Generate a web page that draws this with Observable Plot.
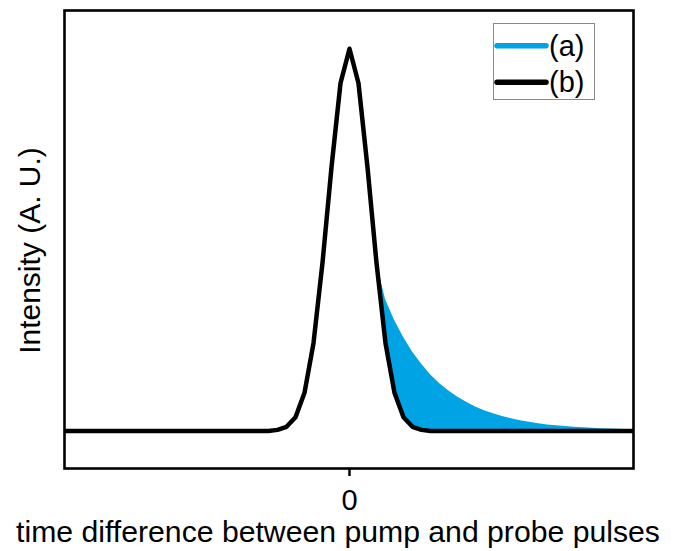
<!DOCTYPE html>
<html>
<head>
<meta charset="utf-8">
<script src="https://cdn.jsdelivr.net/npm/d3@7"></script>
<script src="https://cdn.jsdelivr.net/npm/@observablehq/plot@0.6"></script>
<style>
  html, body { margin: 0; padding: 0; background: white; }
  #wrap { position: relative; width: 673px; height: 551px; font-family: "Liberation Sans", Arial, sans-serif; }
  #legend { position: absolute; left: 493px; top: 23px; }
</style>
</head>
<body>
<div id="wrap"></div>
<script>
// time samples (arbitrary units, 0 = pulse overlap)
const time = [-32,-31,-30,-29,-28,-27,-26,-25,-24,-23,-22,-21,-20,-19,-18,-17,-16,-15,-14,-13,-12,-11,-10,-9,
  -8,-7,-6,-5,-4,-3,-2,-1,0,1,2,3,4,5,6,7,8,
  9,10,11,12,13,14,15,16,17,18,19,20,21,22,23,24,25,26,27,28,29,30,31,32];
// series (b): pump-probe cross-correlation peak
const seriesB = [0,0,0,0,0,0,0,0,0,0,0,0,0,0,0,0,0,0,0,0,0,0,0,0,
  0.003,0.011,0.036,0.10,0.23,0.44,0.69,0.91,1.0,0.91,0.69,0.44,0.23,0.10,0.036,0.011,0.003,
  0,0,0,0,0,0,0,0,0,0,0,0,0,0,0,0,0,0,0,0,0,0,0,0];
// series (a): same peak with an exponential tail
const seriesA = [0,0,0,0,0,0,0,0,0,0,0,0,0,0,0,0,0,0,0,0,0,0,0,0,
  0.003,0.011,0.036,0.10,0.23,0.44,0.69,0.91,1.0,0.91,0.69,0.44,
  0.344,0.290,0.245,0.207,0.175,0.147,0.124,0.105,0.089,0.075,0.063,0.053,0.045,0.038,0.032,
  0.027,0.023,0.019,0.016,0.014,0.012,0.010,0.0085,0.007,0.006,0.005,0.0043,0.0036,0.003];
const xTicks = [0];
const xTickLabels = ["0"];
const xLabel = "time difference between pump and probe pulses";
const yLabel = "Intensity (A. U.)";
const legendLabels = ["(a)", "(b)"];
const colors = ["#00a3e3", "#000000"];

const rows = time.map((t, i) => ({t, a: seriesA[i], b: seriesB[i]}));

const chart = Plot.plot({
  width: 673,
  height: 551,
  marginLeft: 64,
  marginRight: 40,
  marginTop: 10,
  marginBottom: 83,
  style: {fontFamily: "'Liberation Sans', Arial, sans-serif", background: "white", color: "black"},
  x: {domain: [-31.67, 31.56]},
  y: {domain: [-0.0981, 1.1002], axis: null},
  marks: [
    Plot.areaY(rows, {x: "t", y1: "b", y2: "a", fill: colors[0], clip: true}),
    Plot.lineY(rows, {x: "t", y: "b", stroke: colors[1], strokeWidth: 4.5, clip: true}),
    Plot.frame({stroke: "black", strokeWidth: 2.6}),
    Plot.axisX(xTicks, {tickSize: 8, tickPadding: 13, fontSize: 29, strokeWidth: 2.5,
      tickFormat: (d, i) => xTickLabels[i], label: null}),
    Plot.text([xLabel], {frameAnchor: "bottom", lineAnchor: "middle", textAnchor: "middle",
      dx: -11, dy: 64, fontSize: 30.2, fill: "black"}),
    Plot.text([yLabel], {frameAnchor: "left", lineAnchor: "middle", textAnchor: "middle",
      dx: -34, dy: 11, rotate: -90, fontSize: 30, fill: "black"})
  ]
});
const wrap = document.getElementById("wrap");
wrap.appendChild(chart);

// legend box
const lg = d3.select(wrap).append("svg").attr("id", "legend")
  .attr("width", 102).attr("height", 77);
lg.append("rect").attr("x", 0.5).attr("y", 0.5).attr("width", 101).attr("height", 76)
  .attr("fill", "white").attr("stroke", "#8a8a8a").attr("stroke-width", 1);
legendLabels.forEach((lab, i) => {
  const cy = 22.7 + i * 36.6;
  lg.append("line").attr("x1", 4).attr("x2", 53).attr("y1", cy).attr("y2", cy)
    .attr("stroke", colors[i]).attr("stroke-width", 5.5).attr("stroke-linecap", "round");
  lg.append("text").attr("x", 56).attr("y", cy).attr("dy", "0.35em")
    .attr("font-size", 29).attr("font-family", "'Liberation Sans', Arial, sans-serif")
    .attr("fill", "black").text(lab);
});
</script>
</body>
</html>
